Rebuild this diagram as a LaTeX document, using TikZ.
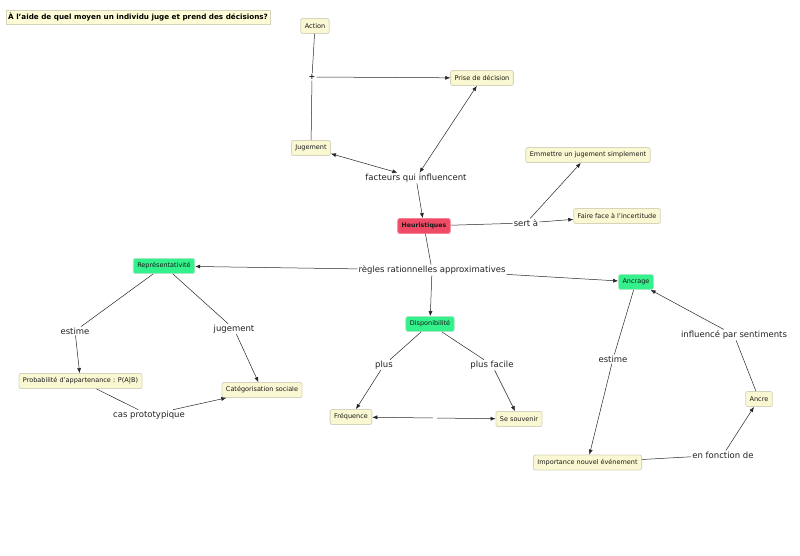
\documentclass[tikz,border=0pt]{standalone}
\usepackage{fontspec}
\setmainfont{DejaVu Sans}
\usetikzlibrary{arrows.meta}
\definecolor{cream}{HTML}{FAF8D2}
\definecolor{creamborder}{HTML}{D6D4BC}
\definecolor{heurfill}{HTML}{F04B66}
\definecolor{greenfill}{HTML}{33F28C}
\definecolor{titlefill}{HTML}{FDFCD6}
\definecolor{linktext}{HTML}{222222}
\begin{document}
\begin{tikzpicture}[x=1pt,y=-1pt,
  concept/.style={draw=creamborder, fill=cream, rounded corners=2pt, line width=0.8pt,
    font=\fontsize{6.5}{7}\selectfont, inner xsep=4pt, inner ysep=0pt, minimum height=15pt, text=black!90},
  greenbox/.style={concept, fill=greenfill, draw=greenfill!80!black!40!white},
  heurbox/.style={concept, fill=heurfill, draw=heurfill!70!white, font=\fontsize{6.2}{7}\selectfont\bfseries},
  link/.style={font=\fontsize{8.5}{10}\selectfont, inner sep=1pt, text=linktext},
  conn/.style={line width=0.5pt, draw=black!85},
  arr/.style={conn, -{Latex[length=5pt,width=4pt]}},
  darr/.style={conn, {Latex[length=5pt,width=4pt]}-{Latex[length=5pt,width=4pt]}}
]
\useasboundingbox[fill=white] (0,0) rectangle (800,555);

% title
\node[draw=creamborder, fill=titlefill, inner xsep=2pt, inner ysep=0pt, minimum height=14pt,
  font=\fontsize{7.2}{8}\selectfont\bfseries] (title) at (138,17) {À l'aide de quel moyen un individu juge et prend des décisions?};

% concepts
\node[concept] (action) at (315,26) {Action};
\node[link, font=\fontsize{8}{9}\selectfont\bfseries] (plus) at (312,77) {+};
\node[concept] (prise) at (482,78) {Prise de décision};
\node[concept] (jug) at (311,148) {Jugement};
\node[link] (fact) at (416,178) {facteurs qui influencent};
\node[heurbox] (heur) at (424,226) {Heuristiques};
\node[link] (sert) at (526,223) {sert à};
\node[concept] (emm) at (588,155) {Emmettre un jugement simplement};
\node[concept] (faire) at (617,216) {Faire face à l'incertitude};
\node[link] (regles) at (432,270) {règles rationnelles approximatives};
\node[greenbox] (repr) at (164,266) {Représentativité};
\node[link] (estimeL) at (75,331) {estime};
\node[link] (jugl) at (234,329) {jugement};
\node[concept] (proba) at (80.5,381) {Probabilité d'appartenance : P(A|B)};
\node[concept] (categ) at (262,390) {Catégorisation sociale};
\node[link] (cas) at (149,415) {cas prototypique};
\node[greenbox] (dispo) at (430,324) {Disponibilité};
\node[link] (plusl) at (384,365) {plus};
\node[link] (plusf) at (492,365) {plus facile};
\node[concept] (freq) at (351,417) {Fréquence};
\node[concept] (souv) at (519,419) {Se souvenir};
\node[link, minimum width=4pt] (gap) at (435,418) {};
\node[greenbox] (ancrage) at (636,282) {Ancrage};
\node[link] (estimeR) at (613,359) {estime};
\node[link] (influ) at (734,335) {influencé par sentiments};
\node[concept] (ancre) at (759,399) {Ancre};
\node[concept] (import) at (587.5,462.5) {Importance nouvel événement};
\node[link] (fonct) at (723,455) {en fonction de};

% connectors
\draw[conn] (action) -- (plus);
\draw[conn] (plus) -- (jug);
\draw[arr] (plus) -- (prise);
\draw[darr] (jug) -- (fact);
\draw[darr] (prise) -- (fact);
\draw[arr] (fact) -- (heur);
\draw[conn] (heur) -- (sert);
\draw[arr] (sert) -- (emm);
\draw[arr] (sert) -- (faire);
\draw[conn] (heur) -- (regles);
\draw[arr] (regles) -- (repr);
\draw[arr] (regles) -- (dispo);
\draw[arr] (regles) -- (ancrage);
\draw[conn] (repr) -- (estimeL);
\draw[arr] (estimeL) -- (proba);
\draw[conn] (repr) -- (jugl);
\draw[arr] (jugl) -- (categ);
\draw[conn] (proba) -- (cas);
\draw[arr] (cas) -- (categ);
\draw[conn] (dispo) -- (plusl);
\draw[arr] (plusl) -- (freq);
\draw[conn] (dispo) -- (plusf);
\draw[arr] (plusf) -- (souv);
\draw[arr] (gap) -- (freq);
\draw[arr] (gap) -- (souv);
\draw[conn] (ancrage) -- (estimeR);
\draw[arr] (estimeR) -- (import);
\draw[conn] (import) -- (fonct);
\draw[arr] (fonct) -- (ancre);
\draw[conn] (ancre) -- (influ);
\draw[arr] (influ) -- (ancrage);
\end{tikzpicture}
\end{document}
